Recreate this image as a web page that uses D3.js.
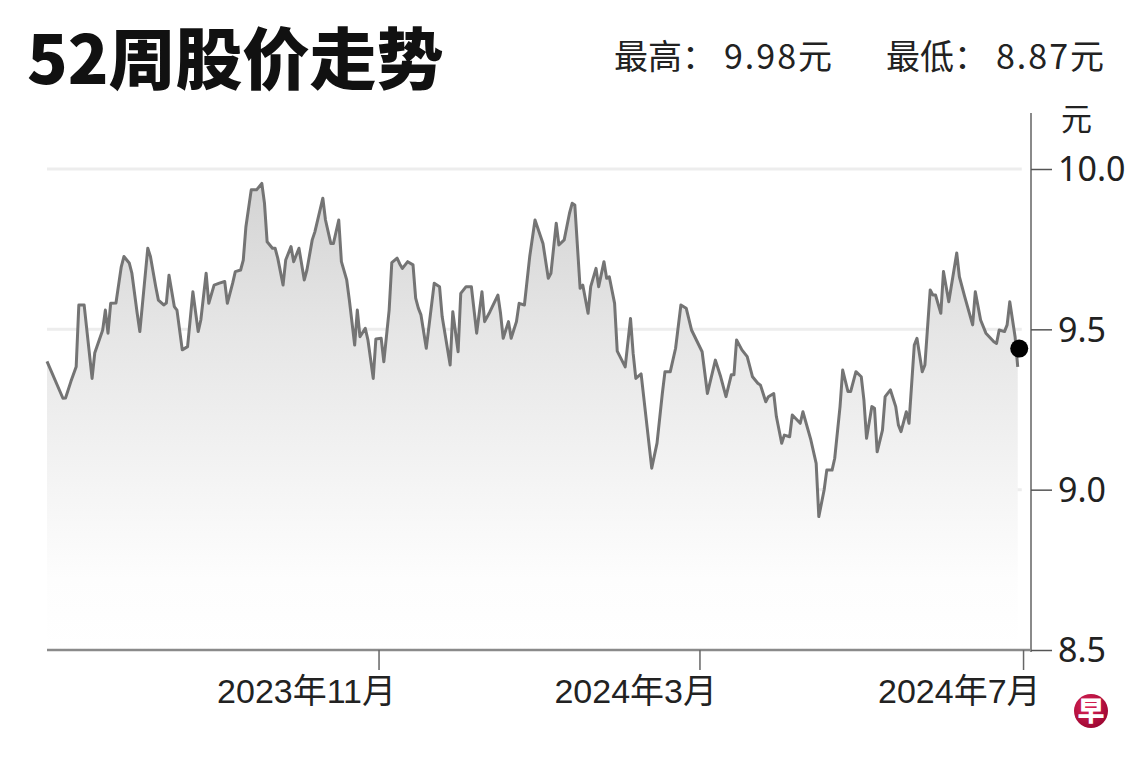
<!DOCTYPE html>
<html>
<head>
<meta charset="utf-8">
<script src="https://cdn.jsdelivr.net/npm/d3@7"></script>
<style>
  html, body { margin: 0; padding: 0; background: #fff; }
  svg { display: block; }
</style>
</head>
<body>
<svg id="chart" width="1140" height="760"></svg>
<script>
// ---- data ----
const titleText = "52周股价走势";
const highLabel = "最高：", highValue = "9.98";
const lowLabel = "最低：", lowValue = "8.87";
const unitText = "元";
const yTicks = [8.5, 9.0, 9.5, 10.0];
const xTickDates = ["2023-11-01", "2024-03-01", "2024-07-01"];
const xTickLabels = ["2023年11月", "2024年3月", "2024年7月"];
const lastPrice = 9.44;

const dates = [
"2023-06-29","2023-07-05","2023-07-06","2023-07-08","2023-07-10","2023-07-11","2023-07-13","2023-07-16","2023-07-17","2023-07-20",
"2023-07-21","2023-07-22","2023-07-23","2023-07-25","2023-07-27","2023-07-28","2023-07-30","2023-07-31","2023-08-02","2023-08-03",
"2023-08-06","2023-08-07","2023-08-09","2023-08-10","2023-08-12","2023-08-13","2023-08-14","2023-08-16","2023-08-17","2023-08-19",
"2023-08-21","2023-08-23","2023-08-25","2023-08-26","2023-08-28","2023-08-29","2023-08-31","2023-09-02","2023-09-04","2023-09-05",
"2023-09-07","2023-09-08","2023-09-10","2023-09-11","2023-09-12","2023-09-14","2023-09-16","2023-09-18","2023-09-19","2023-09-20",
"2023-09-22","2023-09-23","2023-09-24","2023-09-26","2023-09-27","2023-09-29","2023-09-30","2023-10-02","2023-10-04","2023-10-05",
"2023-10-07","2023-10-08","2023-10-11","2023-10-12","2023-10-14","2023-10-15","2023-10-17","2023-10-18","2023-10-20","2023-10-21",
"2023-10-23","2023-10-24","2023-10-25","2023-10-27","2023-10-28","2023-10-30","2023-10-31","2023-11-02","2023-11-03","2023-11-05",
"2023-11-06","2023-11-08","2023-11-09","2023-11-10","2023-11-12","2023-11-14","2023-11-15","2023-11-16","2023-11-17","2023-11-19",
"2023-11-22","2023-11-24","2023-11-25","2023-11-28","2023-11-29","2023-12-01","2023-12-02","2023-12-04","2023-12-06","2023-12-08",
"2023-12-10","2023-12-11","2023-12-13","2023-12-16","2023-12-17","2023-12-18","2023-12-20","2023-12-21","2023-12-23","2023-12-24",
"2023-12-26","2023-12-28","2023-12-30","2024-01-02","2024-01-04","2024-01-05","2024-01-07","2024-01-08","2024-01-10","2024-01-12",
"2024-01-13","2024-01-14","2024-01-16","2024-01-17","2024-01-19","2024-01-20","2024-01-22","2024-01-23","2024-01-25","2024-01-26",
"2024-01-27","2024-01-29","2024-01-30","2024-02-02","2024-02-04","2024-02-05","2024-02-06","2024-02-08","2024-02-12","2024-02-14",
"2024-02-16","2024-02-17","2024-02-19","2024-02-21","2024-02-23","2024-02-25","2024-02-27","2024-03-02","2024-03-04","2024-03-07",
"2024-03-09","2024-03-11","2024-03-13","2024-03-14","2024-03-15","2024-03-17","2024-03-19","2024-03-21","2024-03-23","2024-03-24",
"2024-03-26","2024-03-27","2024-03-29","2024-03-30","2024-04-01","2024-04-02","2024-04-04","2024-04-05","2024-04-08","2024-04-09",
"2024-04-12","2024-04-14","2024-04-15","2024-04-17","2024-04-18","2024-04-20","2024-04-21","2024-04-23","2024-04-24","2024-04-26",
"2024-04-27","2024-04-29","2024-05-01","2024-05-02","2024-05-03","2024-05-05","2024-05-06","2024-05-07","2024-05-09","2024-05-10",
"2024-05-12","2024-05-14","2024-05-15","2024-05-16","2024-05-18","2024-05-19","2024-05-21","2024-05-22","2024-05-24","2024-05-25",
"2024-05-27","2024-05-28","2024-05-29","2024-05-31","2024-06-01","2024-06-03","2024-06-06","2024-06-07","2024-06-09","2024-06-12",
"2024-06-13","2024-06-15","2024-06-17","2024-06-20","2024-06-21","2024-06-22","2024-06-24","2024-06-25","2024-06-26","2024-06-28",
"2024-06-29"
];

const prices = [
9.400,9.285,9.286,9.337,9.383,9.576,9.576,9.347,9.426,9.498,
9.560,9.488,9.581,9.582,9.695,9.727,9.707,9.675,9.550,9.493,
9.753,9.727,9.633,9.591,9.576,9.582,9.669,9.571,9.560,9.436,
9.446,9.617,9.493,9.529,9.675,9.581,9.638,9.644,9.649,9.581,
9.644,9.680,9.685,9.716,9.820,9.935,9.935,9.955,9.893,9.773,
9.753,9.753,9.722,9.638,9.716,9.758,9.711,9.753,9.654,9.685,
9.779,9.804,9.909,9.841,9.768,9.768,9.841,9.711,9.654,9.591,
9.451,9.560,9.477,9.503,9.467,9.347,9.470,9.472,9.399,9.560,
9.708,9.722,9.704,9.690,9.711,9.701,9.597,9.566,9.545,9.441,
9.644,9.633,9.539,9.389,9.555,9.430,9.612,9.633,9.633,9.488,
9.617,9.524,9.555,9.607,9.550,9.472,9.524,9.472,9.524,9.581,
9.576,9.727,9.841,9.768,9.659,9.675,9.831,9.763,9.779,9.862,
9.893,9.888,9.628,9.638,9.550,9.633,9.690,9.633,9.711,9.659,
9.664,9.581,9.432,9.383,9.534,9.425,9.347,9.361,9.067,9.145,
9.300,9.368,9.368,9.441,9.576,9.566,9.498,9.430,9.300,9.404,
9.352,9.290,9.358,9.358,9.467,9.436,9.415,9.352,9.332,9.326,
9.274,9.290,9.300,9.228,9.145,9.170,9.165,9.233,9.207,9.243,
9.155,9.082,8.916,8.999,9.061,9.061,9.098,9.259,9.373,9.306,
9.306,9.368,9.352,9.280,9.160,9.259,9.254,9.118,9.186,9.290,
9.311,9.259,9.202,9.181,9.243,9.207,9.451,9.472,9.368,9.389,
9.623,9.607,9.607,9.550,9.680,9.586,9.738,9.664,9.602,9.514,
9.617,9.529,9.488,9.461,9.456,9.498,9.493,9.514,9.586,9.477,
9.383
];

// ---- chart ----
const parse = d3.timeParse("%Y-%m-%d");
const series = d3.zip(dates, prices).map(([d, v]) => ({ date: parse(d), value: v }));

const svg = d3.select("#chart");
const plotLeft = 47, plotRight = 1031, plotTop = 169, plotBottom = 650;

const x = d3.scaleTime()
  .domain([parse("2023-06-29"), parse("2024-07-04")])
  .range([plotLeft, plotRight]);
const y = d3.scaleLinear()
  .domain([8.5, 10.0])
  .range([plotBottom, plotTop]);

const defs = svg.append("defs");
const grad = defs.append("linearGradient")
  .attr("id", "areaGrad")
  .attr("gradientUnits", "userSpaceOnUse")
  .attr("x1", 0).attr("x2", 0)
  .attr("y1", y(9.97)).attr("y2", y(8.5));
grad.append("stop").attr("offset", 0).attr("stop-color", "#d3d3d3");
grad.append("stop").attr("offset", 0.33).attr("stop-color", "#e6e6e6");
grad.append("stop").attr("offset", 0.66).attr("stop-color", "#f5f5f5");
grad.append("stop").attr("offset", 0.85).attr("stop-color", "#fdfdfd");
grad.append("stop").attr("offset", 1).attr("stop-color", "#ffffff");

const logoGrad = defs.append("radialGradient")
  .attr("id", "logoGrad").attr("cx", "40%").attr("cy", "35%").attr("r", "70%");
logoGrad.append("stop").attr("offset", 0).attr("stop-color", "#e0245a");
logoGrad.append("stop").attr("offset", 1).attr("stop-color", "#9a0630");

// gridlines
svg.append("g")
  .selectAll("line")
  .data(yTicks.filter(v => v > 8.5))
  .join("line")
  .attr("x1", plotLeft)
  .attr("x2", x(series[series.length - 1].date) + 4)
  .attr("y1", d => y(d))
  .attr("y2", d => y(d))
  .attr("stroke", "#ededed")
  .attr("stroke-width", 3);

// area
const area = d3.area()
  .x(d => x(d.date))
  .y0(y(8.5))
  .y1(d => y(d.value));
svg.append("path")
  .datum(series)
  .attr("d", area)
  .attr("fill", "url(#areaGrad)");

// line
const line = d3.line()
  .x(d => x(d.date))
  .y(d => y(d.value));
svg.append("path")
  .datum(series)
  .attr("d", line)
  .attr("fill", "none")
  .attr("stroke", "#747474")
  .attr("stroke-width", 3)
  .attr("stroke-linejoin", "round");

// last price dot
svg.append("circle")
  .attr("cx", x(series[series.length - 1].date) + 1.5)
  .attr("cy", y(lastPrice))
  .attr("r", 9)
  .attr("fill", "#000");

// bottom axis
const xAxis = d3.axisBottom(x)
  .tickValues(xTickDates.map(parse))
  .tickSize(20)
  .tickFormat((d, i) => xTickLabels[i]);
const gx = svg.append("g")
  .attr("transform", `translate(0,${plotBottom})`)
  .call(xAxis);
gx.select(".domain")
  .attr("d", `M${plotLeft},0H${plotRight}`)
  .attr("stroke", "#8a8a8a")
  .attr("stroke-width", 2.5);
gx.selectAll(".tick line").attr("stroke", "#666").attr("stroke-width", 1.5);
gx.selectAll(".tick text")
  .attr("y", 53)
  .attr("dy", 0)
  .attr("dx", 17)
  .attr("text-anchor", "end")
  .attr("fill", "#222")
  .style("font-family", "'Liberation Sans', 'Noto Sans CJK SC', sans-serif")
  .style("font-size", "34px");

// right axis
const yAxis = d3.axisRight(y)
  .tickValues(yTicks)
  .tickSize(21)
  .tickPadding(6)
  .tickFormat(d3.format(".1f"));
const gy = svg.append("g")
  .attr("transform", `translate(${plotRight},0)`)
  .call(yAxis);
gy.select(".domain")
  .attr("d", `M0,113V${plotBottom + 2}`)
  .attr("stroke", "#8a8a8a")
  .attr("stroke-width", 2);
gy.selectAll(".tick line").attr("stroke", "#555").attr("stroke-width", 1.5);
gy.selectAll(".tick text")
  .attr("fill", "#222")
  .attr("dy", "0.35em")
  .style("font-family", "'Noto Sans', 'Open Sans', sans-serif")
  .style("font-size", "34px");

// unit label
svg.append("text")
  .attr("x", 1061).attr("y", 130)
  .attr("fill", "#222")
  .style("font-family", "'Noto Sans CJK SC', sans-serif")
  .style("font-size", "31px")
  .text(unitText);

// title
svg.append("text")
  .attr("x", 27).attr("y", 84)
  .attr("fill", "#111")
  .style("font-family", "'Noto Sans CJK SC', sans-serif")
  .style("font-weight", 900)
  .style("font-size", "67px")
  .text(titleText);

// high / low
function statText(xPos, anchor, label, value) {
  const t = svg.append("text")
    .attr("x", xPos).attr("y", 69)
    .attr("text-anchor", anchor)
    .attr("fill", "#222")
    .style("font-family", "'Noto Sans CJK SC', sans-serif")
    .style("font-size", "34px");
  t.append("tspan").text(label);
  t.append("tspan").attr("dx", 8).style("letter-spacing", "2px").text(value);
  t.append("tspan").text(unitText);
}
statText(614, "start", highLabel, highValue);
statText(1104, "end", lowLabel, lowValue);

// logo
const logo = svg.append("g").attr("transform", "translate(1091,711)");
logo.append("circle").attr("r", 17).attr("fill", "url(#logoGrad)");
logo.append("text")
  .attr("text-anchor", "middle")
  .attr("dy", "0.36em")
  .attr("fill", "#fff")
  .style("font-family", "'Noto Sans CJK SC', sans-serif")
  .style("font-weight", 900)
  .style("font-size", "27px")
  .text("早");
</script>
</body>
</html>
